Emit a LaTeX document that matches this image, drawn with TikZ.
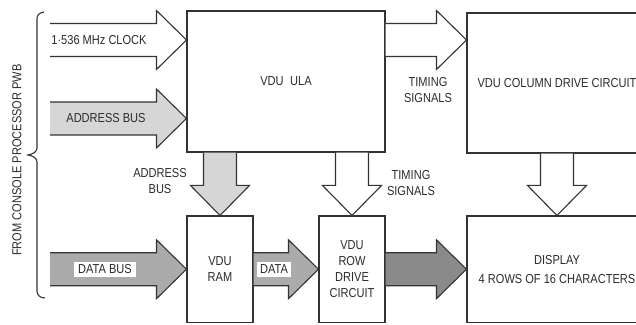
\documentclass[tikz,border=0pt]{standalone}
\usepackage{fontspec}
\setmainfont{Liberation Sans}[FakeStretch=0.85]
\usetikzlibrary{calc}

\begin{document}
\begin{tikzpicture}[x=1pt, y=1pt, font=\fontsize{13}{16}\selectfont]
    % Define colours
    \definecolor{lineColour}{HTML}{333333}
    \definecolor{textColour}{HTML}{2B2B2B}
    \definecolor{lightFill}{HTML}{D6D6D6}
    \definecolor{midFill}{HTML}{ABABAB}
    \definecolor{darkFill}{HTML}{8A8A8A}

    % Define arrow sizes
    \def\shaftHalf{16.5pt}
    \def\headHalf{29.5pt}
    \def\headLength{30pt}

    % Horizontal fat arrow: style, tail, tip
    \def\hArrow#1#2#3{%
        \filldraw[#1] let \p1=(#2), \p2=(#3) in
            ({\x1},{\y2+\shaftHalf}) -- ({\x2-\headLength},{\y2+\shaftHalf})
            -- ({\x2-\headLength},{\y2+\headHalf}) -- (\p2)
            -- ({\x2-\headLength},{\y2-\headHalf}) -- ({\x2-\headLength},{\y2-\shaftHalf})
            -- ({\x1},{\y2-\shaftHalf});}
    % Vertical fat arrow: style, tail, tip
    \def\vArrow#1#2#3{%
        \filldraw[#1] let \p1=(#2), \p2=(#3) in
            ({\x2-\shaftHalf},{\y1}) -- ({\x2-\shaftHalf},{\y2+\headLength})
            -- ({\x2-\headHalf},{\y2+\headLength}) -- (\p2)
            -- ({\x2+\headHalf},{\y2+\headLength}) -- ({\x2+\shaftHalf},{\y2+\headLength})
            -- ({\x2+\shaftHalf},{\y1});}

    \tikzset{
        block/.style={draw=lineColour, line width=1.1pt, inner sep=0pt, align=center, text=textColour},
        arrowLine/.style={draw=lineColour, line width=1.1pt},
        tag/.style={text=textColour, align=center, inner sep=1pt},
        whiteTag/.style={tag, fill=white, inner xsep=4pt, inner ysep=3pt}
    }

    % Fix page size
    \clip (0,0) rectangle (636,324);

    % Draw blocks
    \node[block, minimum width=198, minimum height=141] (ULA) at (286,242.5) {VDU\enspace ULA};
    \node[block, minimum width=180, minimum height=140] (ColDrive) at (557,241) {VDU COLUMN DRIVE CIRCUIT};
    \node[block, minimum width=180, minimum height=106.5] (Display) at (557,54.75) {DISPLAY\\[3pt]4 ROWS OF 16 CHARACTERS};
    \node[block, minimum width=66, minimum height=106.5] (RAM) at (220,54.75) {VDU\\RAM};
    \node[block, minimum width=66, minimum height=106.5] (RowDrive) at (352,54.75) {VDU\\ROW\\DRIVE\\CIRCUIT};

    % Define arrow tails on the left
    \coordinate (ClockIn) at (50,284);
    \coordinate (AddressIn) at (50,205.5);
    \coordinate (DataIn) at (50,54.75);

    % Draw input arrows
    \hArrow{arrowLine, fill=white}{ClockIn}{ULA.west |- ClockIn}
    \hArrow{arrowLine, fill=lightFill}{AddressIn}{ULA.west |- AddressIn}
    \hArrow{arrowLine, fill=midFill}{DataIn}{RAM.west |- DataIn}

    % Draw arrows between blocks
    \hArrow{arrowLine, fill=white}{ULA.east |- ClockIn}{ColDrive.west |- ClockIn}
    \hArrow{arrowLine, fill=midFill}{RAM.east}{RowDrive.west}
    \hArrow{arrowLine, fill=darkFill}{RowDrive.east}{Display.west}
    \vArrow{arrowLine, fill=lightFill}{RAM.north |- ULA.south}{RAM.north}
    \vArrow{arrowLine, fill=white}{RowDrive.north |- ULA.south}{RowDrive.north}
    \vArrow{arrowLine, fill=white}{Display.north |- ColDrive.south}{Display.north}

    % Label arrows
    \node[tag] (clockText) at (99,284) {1·536 MHz CLOCK};
    \node[tag] (addressText) at (106,205.5) {ADDRESS BUS};
    \node[whiteTag] (dataBusText) at (105,54.75) {DATA BUS};
    \node[whiteTag, inner xsep=3pt] (dataText) at (274,54.75) {DATA};
    \node[tag] (timingTop) at (428,234) {TIMING\\SIGNALS};
    \node[tag] (addressBusText) at (160,143) {ADDRESS\\BUS};
    \node[tag] (timingLow) at (411,141) {TIMING\\SIGNALS};

    % Draw brace and source label
    \draw[arrowLine] (44,312) .. controls (39,311) and (37,309) .. (37,305) -- (37,176)
        .. controls (37,172) and (33,170) .. (28,169)
        .. controls (33,168) and (37,166) .. (37,162) -- (37,33)
        .. controls (37,29) and (40,26) .. (45,26);
    \node[tag, rotate=90] (fromText) at (17,164) {FROM CONSOLE PROCESSOR PWB};

\end{tikzpicture}
\end{document}
